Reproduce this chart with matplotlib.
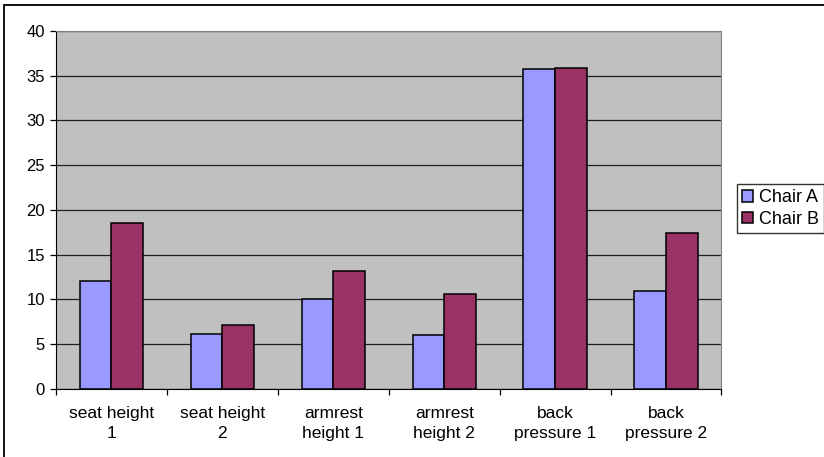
import numpy as np
import matplotlib.pyplot as plt
from matplotlib.patches import Rectangle

plt.rcParams['font.family'] = ['Liberation Sans', 'DejaVu Sans']

categories = ["seat height\n1", "seat height\n2", "armrest\nheight 1",
              "armrest\nheight 2", "back\npressure 1", "back\npressure 2"]
chair_a = [12.1, 6.2, 10.0, 6.0, 35.8, 10.9]
chair_b = [18.6, 7.1, 13.2, 10.6, 35.9, 17.4]

fig = plt.figure(figsize=(8.24, 4.57), dpi=100)
ax = fig.add_axes([0.068, 0.1488, 0.8076, 0.7834])

x = np.arange(len(categories))
w = 2 / 7  # 150% gap width
ax.bar(x - w / 2, chair_a, w, color="#9999ff", edgecolor="black", lw=1.1, label="Chair A", zorder=3)
ax.bar(x + w / 2, chair_b, w, color="#993366", edgecolor="black", lw=1.1, label="Chair B", zorder=3)

ax.set_facecolor("#c0c0c0")
ax.set_xlim(-0.5, len(categories) - 0.5)
ax.set_ylim(0, 40)
ax.set_yticks(range(0, 41, 5))
ax.yaxis.grid(True, color="#202020", lw=0.9, zorder=1)
ax.set_axisbelow(True)

# ticks sit between categories, labels centred under each group
ax.set_xticks(np.arange(-0.5, len(categories)))
ax.set_xticklabels([])
ax.set_xticks(x, minor=True)
ax.set_xticklabels(categories, minor=True, fontsize=12.5, linespacing=1.45)
ax.tick_params(axis="x", which="minor", length=0, pad=12)
ax.tick_params(axis="x", which="major", length=4, width=0.9)
ax.tick_params(axis="y", length=4, width=0.9, labelsize=12, pad=4)

for side in ("top", "right"):
    ax.spines[side].set_color("#808080")
for side in ("left", "bottom"):
    ax.spines[side].set_color("black")

fig.legend(loc="upper left", bbox_to_anchor=(737 / 824, 1 - 184 / 457),
           borderaxespad=0, fontsize=13, frameon=True, fancybox=False,
           edgecolor="black", handlelength=0.6, handleheight=0.6,
           handletextpad=0.3, borderpad=0.3, labelspacing=0.25)

fig.patches.append(Rectangle((4 / 824, -0.1), 1.2, 1 - 5 / 457 + 0.1,
                             transform=fig.transFigure, fill=False,
                             edgecolor="black", lw=1.3))

fig.savefig("out.png", dpi=100)
